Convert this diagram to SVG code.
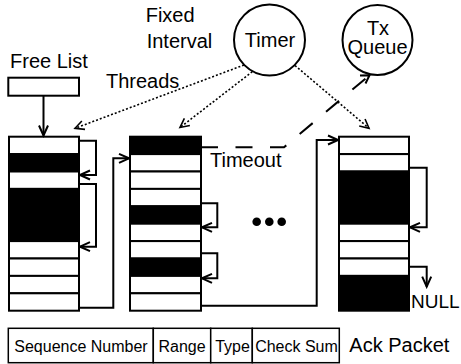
<svg xmlns="http://www.w3.org/2000/svg" width="461" height="364" viewBox="0 0 461 364">
<defs>
<style>
text{font-family:"Liberation Sans",Arial,sans-serif;fill:#000}
.t20{font-size:20px}
.t16{font-size:16px}
.w{fill:#fff;stroke:#000;stroke-width:2}
.b{fill:#000;stroke:#000;stroke-width:2}
.c{fill:none;stroke:#000;stroke-width:2}
.dot{fill:none;stroke:#000;stroke-width:1.6;stroke-dasharray:2 2}
.dash{fill:none;stroke:#000;stroke-width:2;stroke-dasharray:17 17.5}
.cell{fill:#fff;stroke:#000;stroke-width:1.5}
</style>
<marker id="a" markerUnits="userSpaceOnUse" viewBox="-12 -6 14 12" refX="0" refY="0" markerWidth="14" markerHeight="12" orient="auto">
<path d="M-10,-4.5 L0,0 L-10,4.5" fill="none" stroke="#000" stroke-width="2"/>
</marker>
<marker id="ad" markerUnits="userSpaceOnUse" viewBox="-12 -6 14 12" refX="0" refY="0" markerWidth="14" markerHeight="12" orient="auto">
<path d="M-9,-4.5 L0,0 L-9,4.5" fill="none" stroke="#000" stroke-width="1.6"/>
</marker>
</defs>
<rect width="461" height="364" fill="#fff"/>

<g id="labels">
<text class="t20" x="145.7" y="21.7">Fixed</text>
<text class="t20" x="146.7" y="47.7">Interval</text>
<text class="t20" x="10" y="67.7">Free List</text>
<text class="t20" x="106" y="87.7">Threads</text>
<text class="t20" x="210" y="167">Timeout</text>
<text class="t20" x="411" y="307.7" style="font-size:19px">NULL</text>
</g>

<g id="timer">
<circle cx="269.5" cy="40" r="35.5" class="c"/>
<text class="t20" x="270" y="46.7" text-anchor="middle">Timer</text>
</g>

<g id="txqueue">
<circle cx="377.5" cy="40" r="35" class="c"/>
<text class="t20" x="378" y="34.5" text-anchor="middle">Tx</text>
<text class="t20" x="377.5" y="53.8" text-anchor="middle">Queue</text>
</g>

<g id="freelist">
<rect x="8.3" y="77.7" width="70.7" height="18" class="w"/>
</g>

<g id="stack-left">
<rect x="9" y="136.7" width="70" height="17.4" class="w"/>
<rect x="9" y="154.1" width="70" height="17.4" class="b"/>
<rect x="9" y="171.5" width="70" height="17.4" class="w"/>
<rect x="9" y="188.9" width="70" height="52.2" class="b"/>
<rect x="9" y="241.1" width="70" height="17.4" class="w"/>
<rect x="9" y="258.5" width="70" height="17.4" class="w"/>
<rect x="9" y="275.9" width="70" height="17.4" class="w"/>
<rect x="9" y="293.3" width="70" height="17.4" class="w"/>
</g>

<g id="stack-middle">
<rect x="130" y="136.7" width="71" height="17.4" class="b"/>
<rect x="130" y="154.1" width="71" height="17.4" class="w"/>
<rect x="130" y="171.5" width="71" height="17.4" class="w"/>
<rect x="130" y="188.9" width="71" height="17.4" class="w"/>
<rect x="130" y="206.3" width="71" height="17.4" class="b"/>
<rect x="130" y="223.7" width="71" height="17.4" class="w"/>
<rect x="130" y="241.1" width="71" height="17.4" class="w"/>
<rect x="130" y="258.5" width="71" height="17.4" class="b"/>
<rect x="130" y="275.9" width="71" height="17.4" class="w"/>
<rect x="130" y="293.3" width="71" height="17.4" class="w"/>
</g>

<g id="ellipsis">
<circle cx="256.7" cy="221.7" r="4.3"/>
<circle cx="269.3" cy="221.7" r="4.3"/>
<circle cx="281.7" cy="221.7" r="4.3"/>
</g>

<g id="stack-right">
<rect x="339" y="136.7" width="70" height="17.4" class="w"/>
<rect x="339" y="154.1" width="70" height="17.4" class="w"/>
<rect x="339" y="171.5" width="70" height="52.2" class="b"/>
<rect x="339" y="223.7" width="70" height="17.4" class="w"/>
<rect x="339" y="241.1" width="70" height="17.4" class="w"/>
<rect x="339" y="258.5" width="70" height="17.4" class="w"/>
<rect x="339" y="275.9" width="70" height="34.8" class="b"/>
</g>

<g id="ack-packet">
<rect x="8.3" y="328.3" width="145" height="34.4" class="cell"/>
<rect x="153.3" y="328.3" width="57.4" height="34.4" class="cell"/>
<rect x="210.7" y="328.3" width="41.6" height="34.4" class="cell"/>
<rect x="252.3" y="328.3" width="87" height="34.4" class="cell"/>
<text class="t16" x="81" y="351.5" text-anchor="middle">Sequence Number</text>
<text class="t16" x="182" y="351.5" text-anchor="middle">Range</text>
<text class="t16" x="232.5" y="351.5" text-anchor="middle">Type</text>
<text class="t16" x="296.5" y="351.5" text-anchor="middle">Check Sum</text>
<text class="t20" x="349.3" y="351.7">Ack Packet</text>
</g>

<g id="connectors">
<path class="c" d="M43.5,95.7 V135.5" marker-end="url(#a)"/>
<path class="c" d="M79,140.7 H96 V175 H80" marker-end="url(#a)"/>
<path class="c" d="M79,184 H96 V246.7 H80" marker-end="url(#a)"/>
<path class="c" d="M79,307.7 H113.3 V158.3 H129" marker-end="url(#a)"/>
<path class="c" d="M201,203.3 H217.3 V227.3 H202" marker-end="url(#a)"/>
<path class="c" d="M201,253.3 H217.3 V278.3 H202" marker-end="url(#a)"/>
<path class="c" d="M201,305.7 H316.7 V140 H338" marker-end="url(#a)"/>
<path class="c" d="M409,167.7 H426.7 V227.3 H410" marker-end="url(#a)"/>
<path class="c" d="M409,266.7 H426.7 V286.7" marker-end="url(#a)"/>
<path class="dot" d="M244,65 L75,128.3" marker-end="url(#ad)"/>
<path class="dot" d="M252.3,71.7 L180,127.5" marker-end="url(#ad)"/>
<path class="dot" d="M295,65.5 L369,128.3" marker-end="url(#ad)"/>
<path class="dash" d="M201,147.3 H284 L369.5,75.2"/>
<path class="c" d="M360,75.5 L369.5,75.2 L365.5,83.5"/>
</g>
</svg>
